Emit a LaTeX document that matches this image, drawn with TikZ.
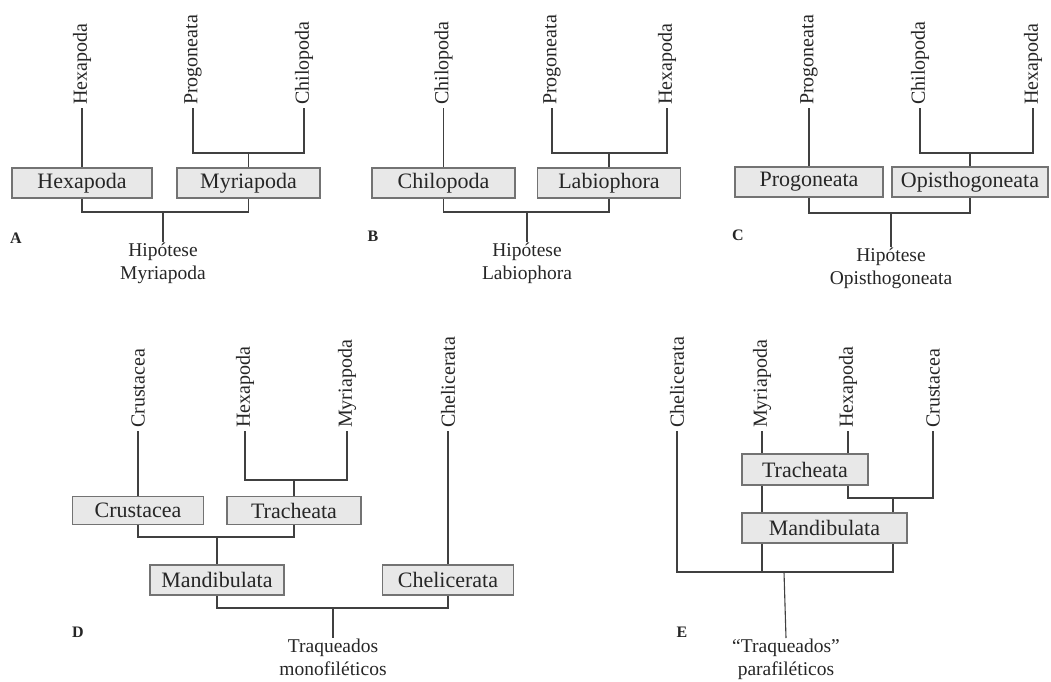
\documentclass[tikz,border=0pt]{standalone}
\usepackage{fontspec}
\setmainfont{Liberation Serif}
\pgfdeclarelayer{back}
\pgfdeclarelayer{bg}
\pgfsetlayers{back,bg,main}
\begin{document}
\begin{tikzpicture}[x=1pt,y=-1pt,
  taxbox/.style={draw=black!55, fill=black!9, line width=1.2pt, inner sep=0pt, minimum height=30pt, font=\fontsize{22}{24}\selectfont, text=black!85},
  vlab/.style={rotate=90, anchor=west, inner sep=3pt, font=\fontsize{20}{24}\selectfont, text=black!85},
  captxt/.style={anchor=north, align=center, inner sep=1pt, font=\fontsize{19.5}{23}\selectfont, text=black!85},
  plab/.style={font=\bfseries\fontsize{16}{18}\selectfont, text=black!85},
  conn/.style={draw=black!75, line width=1.1pt}]
\begin{pgfonlayer}{back}
\fill[white] (0,0) rectangle (1051,681);
\end{pgfonlayer}
\useasboundingbox (0,0) rectangle (1051,681);

% ---------------- Panel A ----------------
\node[taxbox, minimum width=140pt] (hexA) at (82,183) {Hexapoda};
\node[taxbox, minimum width=143pt] (myrA) at (248.5,183) {Myriapoda};
\node[vlab] (lHexA) at (82,108) {Hexapoda};
\node[vlab] (lProA) at (193,108) {Progoneata};
\node[vlab] (lChiA) at (304,108) {Chilopoda};
\coordinate (jA) at (248.5,153);
\coordinate (kA) at (163,212);
\node[captxt] (capA) at (163,242) {Hipótese\\Myriapoda};
\node[plab] (pA) at (16,238) {A};

% ---------------- Panel B ----------------
\node[taxbox, minimum width=143pt] (chiB) at (443.5,183) {Chilopoda};
\node[taxbox, minimum width=143pt] (labB) at (609,183) {Labiophora};
\node[vlab] (lChiB) at (443.5,108) {Chilopoda};
\node[vlab] (lProB) at (552,108) {Progoneata};
\node[vlab] (lHexB) at (667,108) {Hexapoda};
\coordinate (jB) at (609,153);
\coordinate (kB) at (527,212);
\node[captxt] (capB) at (527,242) {Hipótese\\Labiophora};
\node[plab] (pB) at (373,236) {B};

% ---------------- Panel C ----------------
\node[taxbox, minimum width=148pt] (proC) at (809,182) {Progoneata};
\node[taxbox, minimum width=156pt] (opiC) at (970,182) {Opisthogoneata};
\node[vlab] (lProC) at (809,108) {Progoneata};
\node[vlab] (lChiC) at (920,108) {Chilopoda};
\node[vlab] (lHexC) at (1033,108) {Hexapoda};
\coordinate (jC) at (970,153);
\coordinate (kC) at (891,213);
\node[captxt] (capC) at (891,247) {Hipótese\\Opisthogoneata};
\node[plab] (pC) at (738,235) {C};

% ---------------- Panel D ----------------
\node[taxbox, minimum width=131pt, minimum height=28pt] (cruD) at (138,510.5) {Crustacea};
\node[taxbox, minimum width=134pt, minimum height=28pt] (traD) at (294,510.5) {Tracheata};
\node[taxbox, minimum width=134pt] (manD) at (217,580) {Mandibulata};
\node[taxbox, minimum width=131pt] (cheD) at (448,580) {Chelicerata};
\node[vlab] (lCruD) at (138,431) {Crustacea};
\node[vlab] (lHexD) at (245,431) {Hexapoda};
\node[vlab] (lMyrD) at (347,431) {Myriapoda};
\node[vlab] (lCheD) at (448,431) {Chelicerata};
\coordinate (jD) at (294,480);
\coordinate (kD1) at (217,537);
\coordinate (kD2) at (333,608);
\node[captxt] (capD) at (333,638) {Traqueados\\monofiléticos};
\node[plab] (pD) at (78,632) {D};

% ---------------- Panel E ----------------
\node[taxbox, minimum width=126pt, minimum height=31pt] (traE) at (805,469.5) {Tracheata};
\node[taxbox, minimum width=165pt] (manE) at (824.5,528) {Mandibulata};
\node[vlab] (lCheE) at (677,431) {Chelicerata};
\node[vlab] (lMyrE) at (762,431) {Myriapoda};
\node[vlab] (lHexE) at (848,431) {Hexapoda};
\node[vlab] (lCruE) at (933,431) {Crustacea};
\coordinate (jE) at (893,498);
\coordinate (kE) at (784,572);
\node[captxt] (capE) at (786,638) {“Traqueados”\\parafiléticos};
\node[plab] (pE) at (682,632) {E};

\begin{pgfonlayer}{bg}
% A
\draw[conn] (lHexA.west) -- (hexA.north);
\draw[conn] (lProA.west) |- (jA) -| (lChiA.west);
\draw[conn] (jA) -- (myrA.north);
\draw[conn] (hexA.south) |- (kA) -| (myrA.south);
\draw[conn] (kA) -- (capA.north);
% B
\draw[conn] (lChiB.west) -- (chiB.north);
\draw[conn] (lProB.west) |- (jB) -| (lHexB.west);
\draw[conn] (jB) -- (labB.north);
\draw[conn] (chiB.south) |- (kB) -| (labB.south);
\draw[conn] (kB) -- (capB.north);
% C
\draw[conn] (lProC.west) -- (proC.north);
\draw[conn] (lChiC.west) |- (jC) -| (lHexC.west);
\draw[conn] (jC) -- (opiC.north);
\draw[conn] (proC.south) |- (kC) -| (opiC.south);
\draw[conn] (kC) -- (capC.north);
% D
\draw[conn] (lCruD.west) -- (cruD.north);
\draw[conn] (lHexD.west) |- (jD) -| (lMyrD.west);
\draw[conn] (jD) -- (traD.north);
\draw[conn] (cruD.south) |- (kD1) -| (traD.south);
\draw[conn] (kD1) -- (manD.north);
\draw[conn] (lCheD.west) -- (cheD.north);
\draw[conn] (manD.south) |- (kD2) -| (cheD.south);
\draw[conn] (kD2) -- (capD.north);
% E
\draw[conn] (lHexE.west) |- (jE) -| (lCruE.west);
\draw[conn] (lCheE.west) |- (kE) -| (jE);
\draw[conn] (lMyrE.west) -- (lMyrE.west |- kE);
\draw[conn] (kE) -- (capE.north);
\end{pgfonlayer}
\end{tikzpicture}
\end{document}
